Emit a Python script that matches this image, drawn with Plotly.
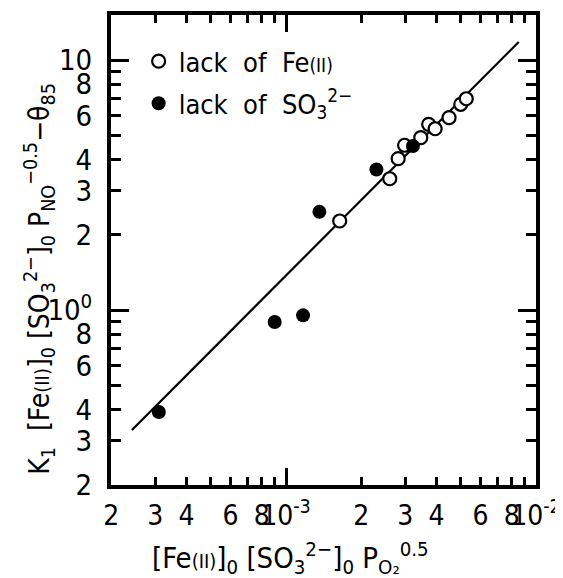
import plotly.graph_objects as go

# ---- data ----
open_x = [1.64e-3, 2.60e-3, 2.81e-3, 2.98e-3, 3.46e-3, 3.72e-3, 3.95e-3, 4.49e-3, 5.00e-3, 5.26e-3]
open_y = [2.27, 3.35, 4.03, 4.56, 4.89, 5.53, 5.31, 5.88, 6.65, 7.00]
filled_x = [3.10e-4, 9.01e-4, 1.17e-3, 1.36e-3, 2.30e-3, 3.22e-3]
filled_y = [0.391, 0.895, 0.952, 2.47, 3.65, 4.53]
fit_x = [2.42e-4, 8.53e-3]
fit_y = [0.331, 11.8]

x_tickvals = [2e-4, 3e-4, 4e-4, 5e-4, 6e-4, 7e-4, 8e-4, 9e-4, 1e-3,
              2e-3, 3e-3, 4e-3, 5e-3, 6e-3, 7e-3, 8e-3, 9e-3, 1e-2]
x_ticktext = ["2", "3", "4", "", "6", "", "8", "", "10<sup>-3</sup>",
              "2", "3", "4", "", "6", "", "8", "", "10<sup>-2</sup>"]
y_tickvals = [0.2, 0.3, 0.4, 0.5, 0.6, 0.7, 0.8, 0.9, 1,
              2, 3, 4, 5, 6, 7, 8, 9, 10]
y_ticktext = ["2", "3", "4", "", "6", "", "8", "", "10<sup>0</sup>",
              "2", "3", "4", "", "6", "", "8", "", "10"]
x_major = [1e-3, 1e-2]
y_major = [1, 10]

x_title = ("[Fe<span style='font-size:20px'>(II)</span>]<sub>0</sub> "
           "[SO<sub>3</sub><sup>2−</sup>]<sub>0</sub> P<sub>O₂</sub><sup>0.5</sup>")
y_title = ("K<sub>1</sub>  [Fe<span style='font-size:20px'>(II)</span>]<sub>0</sub> "
           "[SO<sub>3</sub><sup>2−</sup>]<sub>0</sub> P<sub>NO</sub><sup>−0.5</sup>−θ<sub>85</sub>")
legend_open = "lack  of  Fe<span style='font-size:19px'>(II)</span>"
legend_filled = "lack  of  SO<sub>3</sub><sup>2−</sup>"

x_range = [-3.7, -2.0]
y_range = [-0.699 - 0.001, 1.18]

FONT = "DejaVu Sans Condensed, Liberation Sans Narrow, DejaVu Sans, sans-serif"

def f(size):
    return dict(family=FONT, size=size, color="black")

fig = go.Figure()
fig.add_trace(go.Scatter(x=fit_x, y=fit_y, mode="lines",
                         line=dict(color="black", width=2.2), showlegend=False, hoverinfo="skip"))
fig.add_trace(go.Scatter(x=open_x, y=open_y, mode="markers", name=legend_open,
                         marker=dict(symbol="circle", size=13, color="white",
                                     line=dict(color="black", width=2.2)), legendgroup="a"))
fig.add_trace(go.Scatter(x=filled_x, y=filled_y, mode="markers", name=legend_filled,
                         marker=dict(symbol="circle", size=14, color="black",
                                     line=dict(color="black", width=0)), legendgroup="b"))
# helper trace on overlay axes (for the long decade ticks)
fig.add_trace(go.Scatter(x=[None], y=[None], xaxis="x2", yaxis="y2",
                         showlegend=False, hoverinfo="skip"))

axis_common = dict(type="log", showgrid=False, zeroline=False, showline=True,
                   linecolor="black", linewidth=4, mirror="ticks", automargin=False,
                   ticks="inside", tickcolor="black", tickwidth=2.5)

fig.update_layout(
    width=563, height=578,
    margin=dict(l=103, r=35, t=7, b=101),
    paper_bgcolor="white", plot_bgcolor="white",
    font=f(28),
    xaxis=dict(**axis_common, range=x_range, tickmode="array", tickvals=x_tickvals,
               ticktext=x_ticktext, ticklen=8, tickfont=f(28), tickangle=0,
               ticklabelstandoff=2),
    yaxis=dict(**axis_common, range=y_range, tickmode="array", tickvals=y_tickvals,
               ticktext=y_ticktext, ticklen=10, tickfont=f(29), ticklabelstandoff=9),
    xaxis2=dict(type="log", range=x_range, overlaying="x", anchor="y2", showgrid=False,
                zeroline=False, showline=False, mirror="ticks", ticks="inside",
                tickmode="array", tickvals=x_major, ticklen=17, tickwidth=3,
                tickcolor="black", showticklabels=False, automargin=False),
    yaxis2=dict(type="log", range=y_range, overlaying="y", anchor="x2", showgrid=False,
                zeroline=False, showline=False, mirror="ticks", ticks="inside",
                tickmode="array", tickvals=y_major, ticklen=18, tickwidth=3,
                tickcolor="black", showticklabels=False, automargin=False),
    legend=dict(x=0.065, y=0.953, xanchor="left", yanchor="top", bgcolor="rgba(0,0,0,0)",
                font=f(27), tracegroupgap=4),
    showlegend=True,
    annotations=[
        dict(text=x_title, xref="paper", yref="paper", x=0.4235, y=-0.155,
             xanchor="center", yanchor="middle", showarrow=False, font=f(29)),
        dict(text=y_title, xref="paper", yref="paper", x=-0.168, y=0.438,
             xanchor="center", yanchor="middle", showarrow=False, textangle=-90,
             font=f(28)),
    ],
)

fig.write_html("out.html")
